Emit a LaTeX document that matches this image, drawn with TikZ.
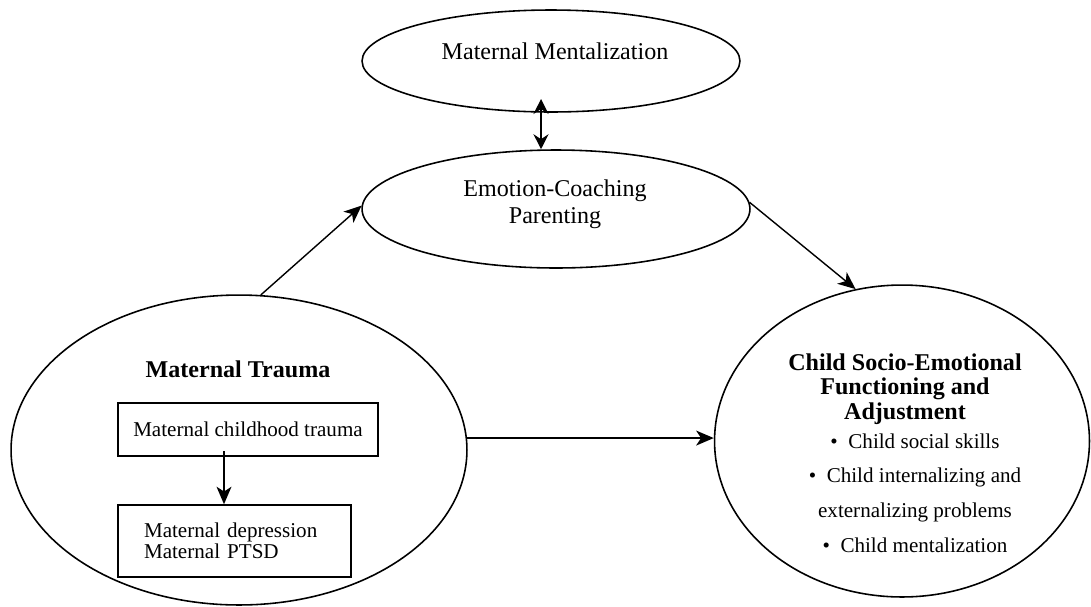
\documentclass[tikz,border=0pt]{standalone}
\usepackage{fontspec}
\setmainfont{Liberation Serif}
\usetikzlibrary{shapes.geometric,arrows.meta}
\begin{document}
\begin{tikzpicture}[x=0.02cm,y=-0.02cm,
  ell/.style={draw,ellipse,line width=0.9pt,inner sep=0pt},
  boxnode/.style={draw,rectangle,line width=0.9pt,inner sep=0pt},
  arr/.style={line width=0.8pt,-{Stealth[length=10pt,width=8.5pt,inset=2.8pt]}},
  arrtwo/.style={line width=0.8pt,{Stealth[length=8.5pt,width=8.5pt,inset=2.8pt]}-{Stealth[length=8.5pt,width=8.5pt,inset=2.8pt]}},
  big/.style={font=\fontsize{13.7}{15.3}\selectfont,align=center,inner sep=0pt},
  bigb/.style={font=\fontsize{13.7}{13.8}\selectfont\bfseries,align=center,inner sep=0pt},
  small/.style={font=\fontsize{12}{12}\selectfont,inner sep=0pt}]
\useasboundingbox (0,0) rectangle (1091,606);

% ellipses
\node[ell,minimum width=7.56cm,minimum height=2.04cm] (mm) at (551,61) {};
\node[ell,minimum width=7.76cm,minimum height=2.36cm] (ec) at (556,209) {};
\node[ell,minimum width=9.12cm,minimum height=6.2cm] (mt) at (239,450) {};
\node[ell,minimum width=7.5cm,minimum height=6.24cm] (ch) at (902,441) {};

% texts in ellipses
\node[big] (mmt) at (555,51) {Maternal Mentalization};
\node[big] (ect) at (555,204) {Emotion-Coaching\\Parenting};
\node[bigb] (mtt) at (238,369) {Maternal Trauma};
\node[bigb] (cht) at (905,389) {Child Socio-Emotional\\Functioning and\\Adjustment};
\node[small,align=center,font=\fontsize{12}{19.8}\selectfont] (chl) at (915,493)
  {\textbullet\ \ Child social skills\\
   \textbullet\ \ Child internalizing and\\
   externalizing problems\\
   \textbullet\ \ Child mentalization};

% boxes
\node[boxnode,small,minimum width=5.2cm,minimum height=1.06cm] (b1) at (248,429.5) {Maternal childhood trauma};
\node[boxnode,small,align=left,inner xsep=0.52cm,text width=3.62cm,minimum width=4.66cm,minimum height=1.44cm,font=\fontsize{12}{12.2}\selectfont] (b2) at (234.5,541)
  {Maternal depression\\Maternal PTSD};

% connectors
\coordinate (ba) at (224,451);
\draw[arr] (ba) -- (ba |- b2.north);

\coordinate (dtop) at (541,99);
\draw[arrtwo] (dtop) -- (ec.north -| dtop);

\draw[arr] (mt.82) -- (ec.179);
\draw[arr] (ec.2) -- (ch.107.5);
\draw[arr] (mt.3) -- (mt.3 -| ch.west);
\end{tikzpicture}
\end{document}
